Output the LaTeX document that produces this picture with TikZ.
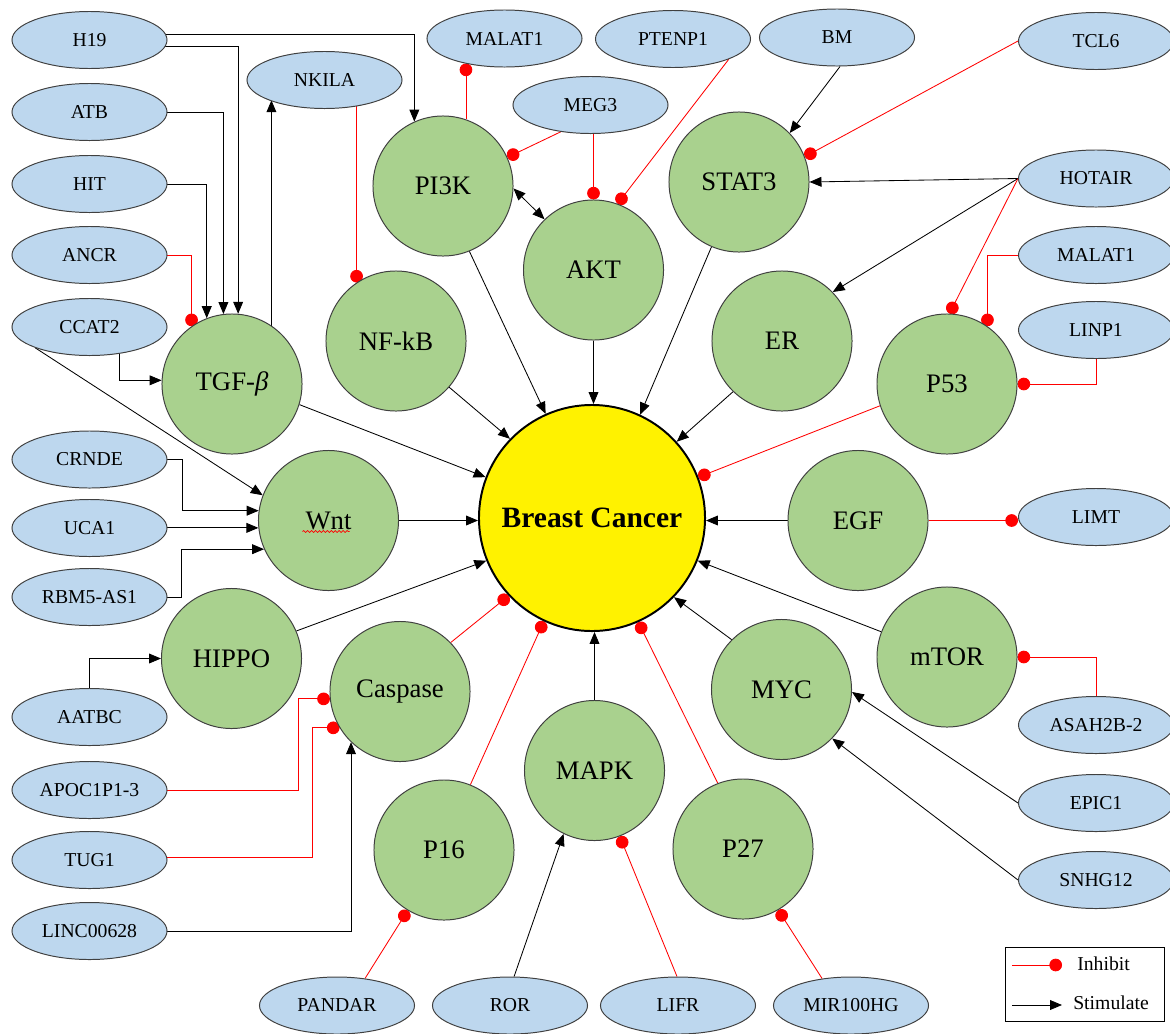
\documentclass[tikz,border=0pt]{standalone}
\usepackage{fontspec}
\setmainfont{Liberation Serif}
\newfontfamily\tnr{Liberation Serif}
\usetikzlibrary{arrows.meta,calc,shapes.geometric,decorations.pathmorphing}
\pgfdeclarelayer{background}
\pgfsetlayers{background,main}
\definecolor{lncfill}{HTML}{BDD7EE}
\definecolor{pwfill}{HTML}{A9D18E}
\definecolor{edgegray}{HTML}{404040}
\begin{document}
\begin{tikzpicture}[x=0.025cm,y=-0.025cm,
 lnc/.style={ellipse, draw=edgegray, line width=0.7pt, fill=lncfill, minimum width=3.875cm, minimum height=1.425cm, inner sep=0pt, font=\tnr\fontsize{14}{16}\selectfont},
 pw/.style={circle, draw=edgegray, line width=0.7pt, fill=pwfill, minimum size=3.5cm, inner sep=0pt, font=\tnr\fontsize{19}{22}\selectfont},
 stim/.style={draw=black, line width=0.6pt, -{Triangle[length=8.5pt,width=7pt]}},
 inh/.style={draw=red, line width=0.6pt, -{Circle[length=9pt]}},
 legtext/.style={anchor=west, inner sep=0pt, font=\tnr\fontsize{14}{16}\selectfont}
]
\useasboundingbox (0,0) rectangle (1170,1033);

% central node
\node[circle, draw=black, line width=1.4pt, fill=yellow, minimum size=5.65cm, inner sep=0pt, font=\tnr\fontsize{21}{24}\selectfont\bfseries] (BC) at (592,518) {Breast Cancer};

% pathway nodes
\node[pw] (PI3K) at (443,186) {PI3K};
\node[pw] (AKT) at (593.5,270) {AKT};
\node[pw] (STAT3) at (739,182) {STAT3};
\node[pw] (NFkB) at (396,341) {NF-kB};
\node[pw] (TGF) at (232,384) {TGF-{\itshape β}};
\node[pw] (ER) at (782,341) {ER};
\node[pw] (P53) at (947,384) {P53};
\node[pw] (Wnt) at (328.5,520.5) {Wnt};
\node[pw] (EGF) at (858,520.5) {EGF};
\node[pw] (HIPPO) at (231.5,658.5) {HIPPO};
\node[pw] (Casp) at (400,691.5) {Caspase};
\node[pw] (mTOR) at (947,657) {mTOR};
\node[pw] (MYC) at (781.5,689.5) {MYC};
\node[pw] (MAPK) at (594.5,770.5) {MAPK};
\node[pw] (P16) at (444,850) {P16};
\node[pw] (P27) at (743,849) {P27};

% lncRNA nodes, left column
\node[lnc] (H19) at (89.5,40) {H19};
\node[lnc] (ATB) at (89.5,112) {ATB};
\node[lnc] (HIT) at (89.5,184) {HIT};
\node[lnc] (ANCR) at (89.5,255) {ANCR};
\node[lnc] (CCAT2) at (89.5,327) {CCAT2};
\node[lnc] (CRNDE) at (89.5,459.5) {CRNDE};
\node[lnc] (UCA1) at (89.5,528) {UCA1};
\node[lnc] (RBM) at (89.5,597) {RBM5-AS1};
\node[lnc] (AATBC) at (89.5,717) {AATBC};
\node[lnc] (APOC) at (89.5,790) {APOC1P1-3};
\node[lnc] (TUG1) at (89.5,860) {TUG1};
\node[lnc] (LINC) at (89.5,931) {LINC00628};
% bottom row
\node[lnc] (PANDAR) at (337,1005.5) {PANDAR};
\node[lnc] (ROR) at (510,1005.5) {ROR};
\node[lnc] (LIFR) at (678,1005.5) {LIFR};
\node[lnc] (MIR) at (851,1005.5) {MIR100HG};
% top
\node[lnc] (NKILA) at (324.5,80) {NKILA};
\node[lnc] (MALa) at (504.5,38.5) {MALAT1};
\node[lnc] (PTEN) at (673,39) {PTENP1};
\node[lnc] (MEG3) at (590.5,105) {MEG3};
\node[lnc] (BM) at (837,37.5) {BM};
% right column
\node[lnc] (TCL6) at (1096,41) {TCL6};
\node[lnc] (HOTAIR) at (1096,178.5) {HOTAIR};
\node[lnc] (MALb) at (1096,255) {MALAT1};
\node[lnc] (LINP1) at (1096,330) {LINP1};
\node[lnc] (LIMT) at (1096,517) {LIMT};
\node[lnc] (ASAH) at (1096,725) {ASAH2B-2};
\node[lnc] (EPIC1) at (1096,803) {EPIC1};
\node[lnc] (SNHG12) at (1096,880) {SNHG12};

% spell-check wave under Wnt
\draw[red, line width=0.5pt, decorate, decoration={snake, amplitude=0.7pt, segment length=2.8pt}] ($(Wnt.center)+(-26,11)$) -- ++(47,0);

\begin{pgfonlayer}{background}
% left column connectors
\draw[stim] ($(H19.center)+(0,-6)$) -| (PI3K.114);
\draw[stim] ($(H19.center)+(0,6)$) -| (TGF.85);
\draw[stim] (ATB.center) -| (TGF.97);
\draw[stim] (HIT.center) -| (TGF.111);
\draw[inh] (ANCR.center) -| (TGF.125);
\draw[stim] (TGF.56) -- (TGF.56 |- NKILA.200);
\draw[inh] (NKILA.center -| NFkB.124) -- (NFkB.124);
\draw[stim] ($(CCAT2.center)+(30,0)$) |- (TGF.177);
\draw[stim] (CCAT2.201) -- (Wnt.159);
\draw[stim] (CRNDE.center) -- ($(CRNDE.center)+(93,0)$) |- (Wnt.172);
\draw[stim] (UCA1.center |- Wnt.186) -- (Wnt.186);
\draw[stim] (RBM.center) -- ($(RBM.center)+(92,0)$) |- (Wnt.204);
\draw[stim] (AATBC.north) |- (HIPPO.west);
\draw[inh] (APOC.center) -- ($(APOC.center)+(209,0)$) |- (Casp.186);
\draw[inh] ($(TUG1.center)+(0,-3)$) -- ($(TUG1.center)+(223,-3)$) |- (Casp.211);
\draw[stim] (LINC.center) -| (Casp.226);
% bottom
\draw[inh] (PANDAR.44) -- (P16.239);
\draw[stim] (ROR.82) -- (MAPK.244);
\draw[inh] (LIFR.92) -- (MAPK.-69);
\draw[inh] (MIR.137) -- (P27.-60);
% into Breast Cancer
\draw[stim] (TGF.-17) -- (BC.159);
\draw[stim] (NFkB.-41) -- (BC.136);
\draw[stim] (PI3K.-68) -- (BC.114);
\draw[stim] (AKT.south) -- (AKT.south |- BC.north);
\draw[stim] (STAT3.247) -- (BC.65);
\draw[stim] (ER.226) -- (BC.42);
\draw[inh] (P53.198) -- (BC.21);
\draw[stim] (EGF.west) -- (EGF.west -| BC.east);
\draw[stim] (mTOR.159) -- (BC.-22);
\draw[stim] (MYC.135) -- (BC.-44);
\draw[inh] (P27.111) -- (BC.-66);
\draw[stim] (MAPK.north) -- (MAPK.north |- BC.south);
\draw[inh] (P16.68) -- (BC.245);
\draw[inh] (Casp.44) -- (BC.223);
\draw[stim] (HIPPO.23) -- (BC.202);
\draw[stim] (Wnt.east) -- (Wnt.east -| BC.west);
% top
\draw[draw=black, line width=0.6pt, {Triangle[length=8.5pt,width=7pt]}-{Triangle[length=8.5pt,width=7pt]}] (PI3K.-2) -- (AKT.134);
\draw[inh] (PI3K.71) -- ($(PI3K.71 |- MALa.center)+(0,25)$);
\draw[inh] (MEG3.222) -- (PI3K.24);
\draw[inh] (AKT.north |- MEG3.south) -- (AKT.north);
\draw[inh] (PTEN.-20) -- (AKT.70);
\draw[stim] (BM.-84) -- (STAT3.44);
% right
\draw[inh] (TCL6.west) -- (STAT3.21);
\draw[stim] (HOTAIR.west) -- (STAT3.east);
\draw[stim] (HOTAIR.west) -- (ER.44);
\draw[inh] (HOTAIR.west) -- (P53.88);
\draw[inh] (MALb.west) -| (P53.55);
\draw[inh] (LINP1.south) |- (P53.east);
\draw[inh] (EGF.east) -- (EGF.east -| LIMT.west);
\draw[inh] (ASAH.north) |- (mTOR.east);
\draw[stim] (EPIC1.west) -- (MYC.-2);
\draw[stim] (SNHG12.west) -- (MYC.-44);
\end{pgfonlayer}

% legend
\node[draw=black, line width=0.7pt, minimum width=3.975cm, minimum height=1.85cm, inner sep=0pt] (leg) at (1084.5,984) {};
\coordinate (li1) at (1012,965);
\coordinate (li2) at (1062,965);
\coordinate (ls1) at (1012,1005);
\coordinate (ls2) at (1062,1005);
\draw[inh] (li1) -- (li2);
\draw[stim] (ls1) -- (ls2);
\node[legtext] (tinh) at (1077,964) {Inhibit};
\node[legtext] (tstim) at (1073,1003) {Stimulate};
\end{tikzpicture}
\end{document}
